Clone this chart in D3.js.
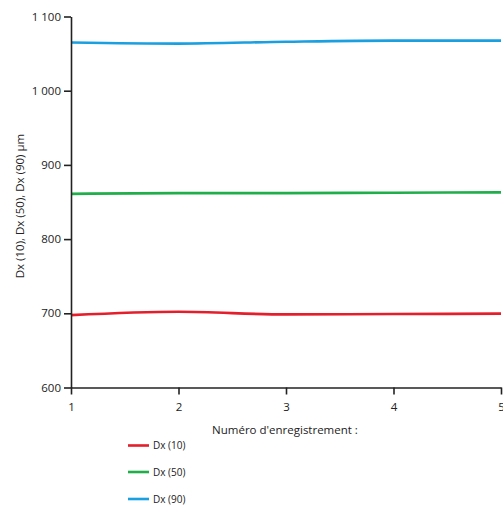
<!DOCTYPE html>
<html>
<head>
<meta charset="utf-8">
<script src="https://cdn.jsdelivr.net/npm/d3@7"></script>
<style>
  html, body { margin: 0; padding: 0; background: #fff; }
  svg text { font-family: "Open Sans", "Noto Sans", sans-serif; fill: #222; }
</style>
</head>
<body>
<svg id="chart" width="503" height="508"></svg>
<script>
// Recording numbers on the x axis
const records = [1, 2, 3, 4, 5];
// Particle size values (µm) per recording
const dx10 = [697.5, 702, 698.5, 699, 699.5];
const dx50 = [861, 862, 862, 862.5, 863];
const dx90 = [1065, 1063.5, 1066, 1067.5, 1067.5];
const seriesNames = ["Dx (10)", "Dx (50)", "Dx (90)"];
const seriesColors = ["#e41e2b", "#1fae4a", "#1a9fe0"];
const yTicks = [600, 700, 800, 900, 1000, 1100];
const xTitle = "Numéro d'enregistrement :";
const yTitle = "Dx (10), Dx (50), Dx (90) µm";

const series = [dx10, dx50, dx90];

const svg = d3.select("#chart");
const plot = { left: 71, right: 501, top: 16.5, bottom: 387.5 };

const x = d3.scaleLinear().domain([1, 5]).range([plot.left, plot.right]);
const y = d3.scaleLinear().domain([600, 1100]).range([plot.bottom, plot.top]);

const fmt = v => d3.format(",")(v).replace(/,/g, " ");

// Lines
const line = d3.line()
  .x((d, i) => x(records[i]))
  .y(d => y(d))
  .curve(d3.curveMonotoneX);

series.forEach((s, i) => {
  svg.append("path")
    .datum(s)
    .attr("d", line)
    .attr("fill", "none")
    .attr("stroke", seriesColors[i])
    .attr("stroke-width", 2.6);
});

// Y axis
const yAxis = svg.append("g")
  .attr("transform", `translate(${plot.left},0)`)
  .call(d3.axisLeft(y).tickValues(yTicks).tickFormat(fmt).tickSize(7).tickPadding(3).tickSizeOuter(0));

// X axis
const xAxis = svg.append("g")
  .attr("transform", `translate(0,${plot.bottom})`)
  .call(d3.axisBottom(x).tickValues(records).tickFormat(d3.format("d")).tickSize(7).tickPadding(8).tickSizeOuter(0));

[yAxis, xAxis].forEach(g => {
  g.select(".domain").attr("stroke", "#222").attr("stroke-width", 1.6);
  g.selectAll(".tick line").attr("stroke", "#222").attr("stroke-width", 1.6);
  g.selectAll(".tick text")
    .attr("font-family", "'Open Sans', sans-serif")
    .attr("font-size", 11.5)
    .attr("fill", "#222");
});

// Axis titles
svg.append("text")
  .attr("x", 285)
  .attr("y", 434)
  .attr("text-anchor", "middle")
  .attr("font-size", 11.5)
  .text(xTitle);

svg.append("text")
  .attr("transform", "translate(24,206) rotate(-90)")
  .attr("text-anchor", "middle")
  .attr("font-size", 11.5)
  .text(yTitle);

// Legend
const legendY = [445.5, 472, 499];
seriesNames.forEach((name, i) => {
  const g = svg.append("g").attr("transform", `translate(128,${legendY[i]})`);
  g.append("line")
    .attr("x1", 0).attr("x2", 21)
    .attr("y1", 0).attr("y2", 0)
    .attr("stroke", seriesColors[i])
    .attr("stroke-width", 2.6);
  g.append("text")
    .attr("x", 25)
    .attr("y", 3.5)
    .attr("font-size", 10)
    .text(name);
});
</script>
</body>
</html>
